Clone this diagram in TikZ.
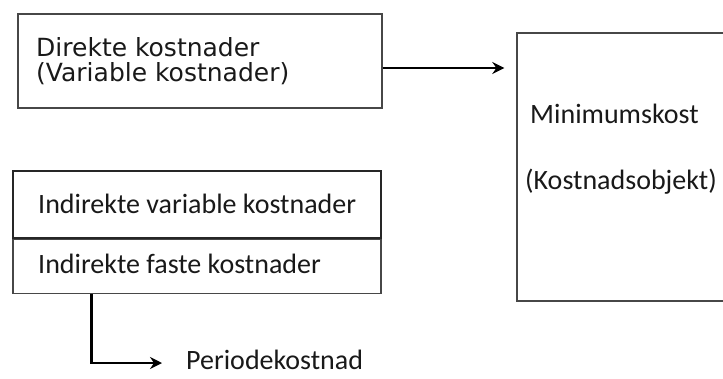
\documentclass[tikz,border=0pt]{standalone}
\usepackage{fontspec}
\setmainfont{Carlito}
\newfontfamily\verdfont{DejaVu Sans}
\usetikzlibrary{arrows.meta,positioning}
\tikzset{
  basic/.style    = {draw=black!72, line width=1.4pt, rectangle, inner sep=0pt},
  direct/.style   = {basic, minimum width=364pt, minimum height=94pt},
  indirect/.style = {basic, minimum width=368pt},
  object/.style   = {basic, minimum width=240pt, minimum height=268pt},
  txt/.style      = {anchor=base west, inner sep=0pt, text=black!90,
                     font=\fontsize{28}{30}\selectfont},
  vtxt/.style     = {txt, font=\verdfont\fontsize{25}{25}\selectfont},
  flow/.style     = {->, draw, line width=2.5pt}
}

\begin{document}
\begin{tikzpicture}[x=1pt, y=-1pt, >={Stealth[length=12pt, width=12pt, inset=4pt]}]

\useasboundingbox (0,0) rectangle (723,378);
\clip (0,0) rectangle (723,378);

% direkte kostnader
\node[direct] at (200,61) (dirk) {};
\node[vtxt] at (36,56) (dirk1) {Direkte kostnader};
\node[vtxt] at (36,81) (dirk2) {(Variable kostnader)};

% kostnadsobjekt
\node[object] at (637,167) (minkost) {};
\node[txt] at (530,123) (minlab) {Minimumskost};
\node[txt] at (525,189) (objlab) {(Kostnadsobjekt)};

% indirekte kostnader
\node[indirect, draw=black!85, line width=1.8pt, minimum height=67pt] at (197,204.5) (indvar) {};
\node[indirect, minimum height=54pt, below=0pt of indvar] (indfast) {};
\node[txt] at (38,213) (varlab) {Indirekte variable kostnader};
\node[txt] at (38,273) (fastlab) {Indirekte faste kostnader};

\node[txt] at (186,369) (periode) {Periodekostnad};

\draw[flow, shorten >=12pt] ([yshift=-7pt]dirk.east) -- ([yshift=-7pt]dirk.east -| minkost.west);
\draw[flow] ([xshift=79pt]indfast.south west) |- ([xshift=-24pt, yshift=6pt]periode.base west);

\end{tikzpicture}
\end{document}
